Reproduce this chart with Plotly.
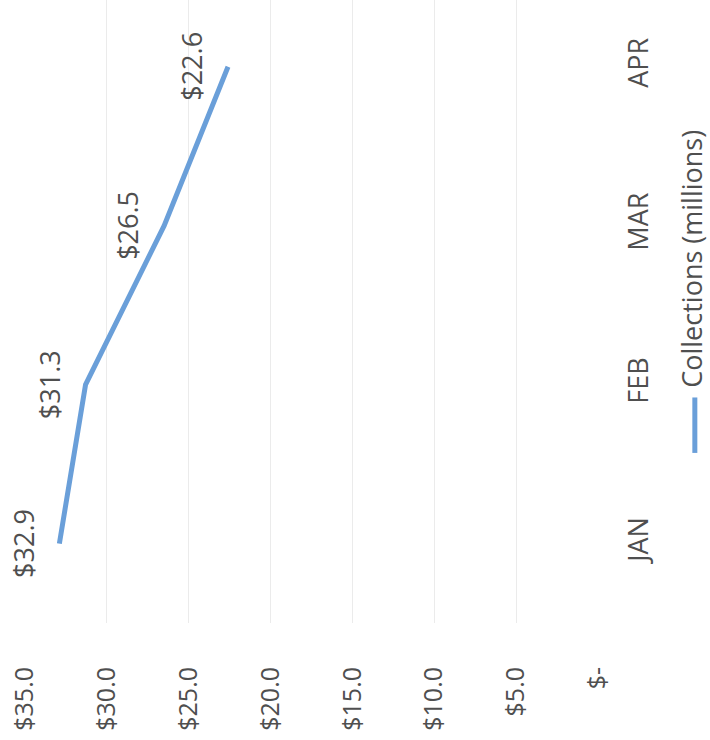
import plotly.graph_objects as go

# ---- data ----
months = ["JAN", "FEB", "MAR", "APR"]
collections = [32.9, 31.3, 26.5, 22.6]
tick_values = [35, 30, 25, 20, 15, 10, 5, 0]
tick_labels = ["$35.0", "$30.0", "$25.0", "$20.0", "$15.0", "$10.0", "$5.0", "$-"]
series_name = "Collections (millions)"

FONT = "Open Sans"
TEXT_COLOR = "#4f4f4f"
LINE_COLOR = "#6a9fd9"

fig = go.Figure()
fig.add_trace(go.Scatter(
    x=collections, y=months, mode="lines",
    line=dict(color=LINE_COLOR, width=5),
    name=series_name, showlegend=False, hoverinfo="skip",
))

# data labels (rotated like the rest of the chart)
for v, m in zip(collections, months):
    fig.add_annotation(
        x=v, y=m, xref="x", yref="y", text=f"${v:.1f}", textangle=-90,
        showarrow=False, xanchor="center", yanchor="middle", xshift=-36,
        font=dict(family=FONT, size=27, color=TEXT_COLOR),
    )

# legend (rotated)
fig.add_annotation(
    x=1.163, y=0.375, xref="paper", yref="paper", text=series_name,
    textangle=-90, showarrow=False, xanchor="center", yanchor="bottom",
    font=dict(family=FONT, size=27, color=TEXT_COLOR),
)
fig.add_shape(
    type="line", xref="paper", yref="paper",
    x0=1.169, x1=1.169, y0=0.362, y1=0.273,
    line=dict(color=LINE_COLOR, width=5),
)

fig.update_layout(
    width=710, height=740,
    margin=dict(l=25, r=112, t=0, b=117),
    paper_bgcolor="white", plot_bgcolor="white",
    showlegend=False,
    font=dict(family=FONT, size=27, color=TEXT_COLOR),
    xaxis=dict(
        range=[35, 0], tickmode="array", tickvals=tick_values, ticktext=tick_labels,
        tickangle=-90, showgrid=True, gridcolor="#ebebeb", gridwidth=1,
        zeroline=False, showline=False, ticks="", ticklabelstandoff=38,
        tickfont=dict(family=FONT, size=25, color=TEXT_COLOR),
    ),
    yaxis=dict(
        type="category", categoryorder="array", categoryarray=months,
        range=[-0.5, 3.42], side="right", tickangle=-90,
        showgrid=False, zeroline=False, showline=False, ticks="",
        ticklabelstandoff=22,
        tickfont=dict(family=FONT, size=27, color=TEXT_COLOR),
    ),
)

fig.write_html(
    "out.html",
    config={"displayModeBar": False},
    post_script="document.body.style.margin='0px';document.body.style.overflow='hidden';",
)
